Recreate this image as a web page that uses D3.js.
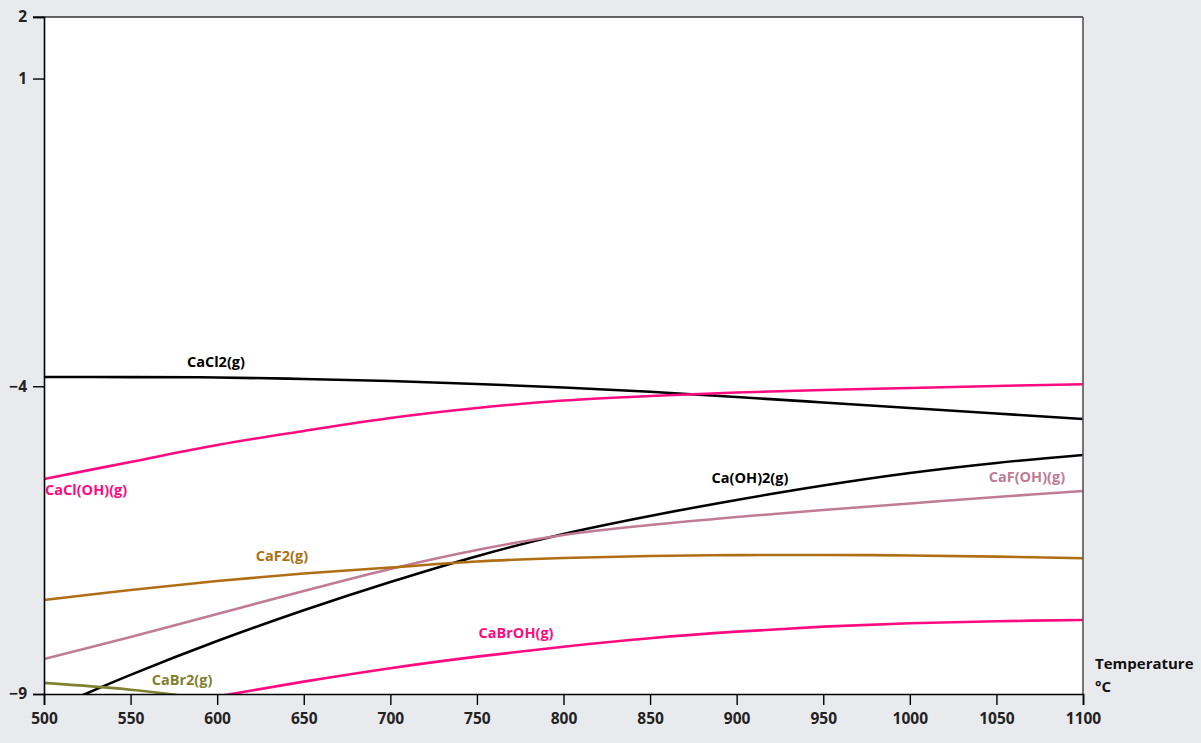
<!DOCTYPE html>
<html><head><meta charset="utf-8">
<script src="https://cdn.jsdelivr.net/npm/d3@7"></script>
<style>
html,body{margin:0;padding:0;background:#e9eaee;}
text{font-family:"Open Sans",Lato,sans-serif;font-weight:bold;}
</style></head>
<body>
<svg id="c" width="1201" height="743"></svg>
<script>
const temps = [500,550,600,650,700,750,800,850,900,950,1000,1050,1100];
const CaCl2   = [-3.849,-3.851,-3.857,-3.881,-3.914,-3.962,-4.020,-4.090,-4.174,-4.263,-4.353,-4.442,-4.531];
const CaClOH  = [-5.506,-5.230,-4.954,-4.726,-4.515,-4.353,-4.231,-4.158,-4.101,-4.060,-4.028,-3.995,-3.968];
const CaOH2   = [-9.29,-8.69,-8.14,-7.64,-7.18,-6.76,-6.40,-6.107,-5.847,-5.612,-5.409,-5.246,-5.116];
const CaFOH   = [-8.431,-8.073,-7.699,-7.326,-6.968,-6.660,-6.416,-6.254,-6.124,-6.010,-5.904,-5.799,-5.702];
const CaF2    = [-7.472,-7.310,-7.163,-7.042,-6.944,-6.847,-6.790,-6.757,-6.744,-6.741,-6.749,-6.768,-6.794];
const CaBrOH  = [-9.55,-9.29,-9.04,-8.799,-8.581,-8.393,-8.231,-8.094,-7.987,-7.906,-7.851,-7.818,-7.797];
const CaBr2   = [-8.82,-8.93,-9.10];
const xTicks = [500,550,600,650,700,750,800,850,900,950,1000,1050,1100];
const yTicks = [2,1,-4,-9];

const series = [
  {name:"CaCl2(g)",   vals:CaCl2,  color:"#000000", lx:599.3, ly:-3.605, anchor:"middle"},
  {name:"CaCl(OH)(g)",vals:CaClOH, color:"#ff0a80", lx:500.6, ly:-5.685, anchor:"start"},
  {name:"Ca(OH)2(g)", vals:CaOH2,  color:"#000000", lx:907.7, ly:-5.490, anchor:"middle"},
  {name:"CaF(OH)(g)", vals:CaFOH,  color:"#c07c94", lx:1067.6, ly:-5.474, anchor:"middle"},
  {name:"CaF2(g)",    vals:CaF2,   color:"#b06e14", lx:637.4, ly:-6.757, anchor:"middle"},
  {name:"CaBrOH(g)",  vals:CaBrOH, color:"#ff0a80", lx:772.6, ly:-8.008, anchor:"middle"},
  {name:"CaBr2(g)",   vals:CaBr2,  color:"#80802e", lx:579.7, ly:-8.772, anchor:"middle"}
];

const svg = d3.select("#c");
const L=44, R=1083, T=17, B=694;
const x = d3.scaleLinear().domain([500,1100]).range([L,R]);
const y = d3.scaleLinear().domain([-9,2]).range([B,T]);

svg.append("rect").attr("x",L).attr("y",T).attr("width",R-L).attr("height",B-T).attr("fill","#ffffff");

svg.append("defs").append("clipPath").attr("id","clip")
  .append("rect").attr("x",L).attr("y",T).attr("width",R-L).attr("height",B-T);

const line = d3.line().x(d=>x(d[0])).y(d=>y(d[1])).curve(d3.curveCatmullRom.alpha(0.5));
const g = svg.append("g").attr("clip-path","url(#clip)");
series.forEach(s=>{
  const pts = s.vals.map((v,i)=>[temps[i],v]);
  g.append("path").attr("d",line(pts)).attr("fill","none")
   .attr("stroke",s.color).attr("stroke-width",2.6);
});

// labels
series.forEach(s=>{
  svg.append("text").attr("x",x(s.lx)).attr("y",y(s.ly))
    .attr("text-anchor",s.anchor).attr("dominant-baseline","central")
    .attr("font-size",14.5).attr("fill",s.color).text(s.name);
});

// frame top and right
svg.append("line").attr("x1",33).attr("x2",R).attr("y1",T).attr("y2",T).attr("stroke","#333").attr("stroke-width",1.6);
svg.append("line").attr("x1",R).attr("x2",R).attr("y1",T).attr("y2",B).attr("stroke","#555").attr("stroke-width",1.6);

// axes
const xAxis = d3.axisBottom(x).tickValues(xTicks).tickSize(11).tickPadding(8).tickFormat(d3.format("d"));
const gx = svg.append("g").attr("transform",`translate(0,${B})`).call(xAxis);
gx.select(".domain").attr("stroke","#000").attr("stroke-width",1.6);
gx.selectAll(".tick line").attr("stroke","#000").attr("stroke-width",1.4);
gx.selectAll(".tick text").attr("font-size",15.5).attr("fill","#222").attr("font-family","Open Sans").attr("font-weight","bold");

const yAxis = d3.axisLeft(y).tickValues(yTicks).tickSize(11).tickPadding(6).tickFormat(d3.format("d"));
const gy = svg.append("g").attr("transform",`translate(${L},0)`).call(yAxis);
gy.select(".domain").attr("stroke","#000").attr("stroke-width",1.6);
gy.selectAll(".tick line").attr("stroke","#000").attr("stroke-width",1.4);
gy.selectAll(".tick text").attr("font-size",15.5).attr("fill","#222").attr("font-family","Open Sans").attr("font-weight","bold");

svg.append("text").attr("x",1095).attr("y",663).attr("dominant-baseline","central").attr("font-size",15).attr("fill","#111").text("Temperature");
svg.append("text").attr("x",1095).attr("y",686).attr("dominant-baseline","central").attr("font-size",15).attr("fill","#111").text("°C");
</script>
</body></html>
